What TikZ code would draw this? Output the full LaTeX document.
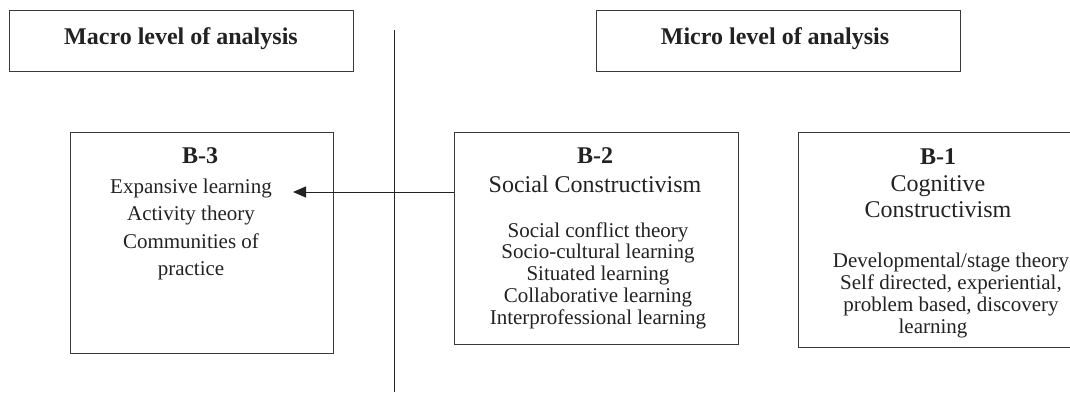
\documentclass[tikz,border=0pt]{standalone}
\usepackage{fontspec}
\setmainfont{Liberation Serif}
\usetikzlibrary{arrows.meta}
\definecolor{ink}{HTML}{222222}
\definecolor{edge}{HTML}{3A3A3A}
\tikzset{
  box/.style={draw=edge, line width=1.1pt, anchor=north west, inner sep=0pt},
  txt/.style={anchor=base, inner sep=0pt, text=ink},
  big/.style={font=\fontsize{24}{28}\selectfont},
  conn/.style={draw=ink, line width=1pt, -{Triangle[length=13pt,width=11pt]}}
}
\newcommand{\lines}[1]{\begin{tabular}[t]{@{}c@{}}#1\end{tabular}}
\begin{document}
\begin{tikzpicture}[x=1pt,y=-1pt]
\useasboundingbox (0,0) rectangle (1070,393);
% header boxes
\node[box, minimum width=344pt, minimum height=61pt] (macro) at (9,10) {};
\node[txt, big] (macrot) at (181,45) {\bfseries Macro level of analysis};
\node[box, minimum width=364pt, minimum height=61pt] (micro) at (596,10) {};
\node[txt, big] (microt) at (775,45) {\bfseries Micro level of analysis};
% divider
\coordinate (dtop) at (394,30);
\coordinate (dbot) at (394,392);
\draw[draw=ink, line width=1pt] (dtop) -- (dbot);
% B-3
\node[box, minimum width=263pt, minimum height=221pt] (b3) at (70,132) {};
\node[txt, big] (b3t) at (200,163) {\bfseries B-3};
\node[txt, font=\fontsize{21}{27.5}\selectfont] (b3i) at (191,193)
  {\lines{Expansive learning\\Activity theory\\Communities of\\practice}};
% B-2
\node[box, minimum width=284pt, minimum height=212pt] (b2) at (454,132) {};
\node[txt, font=\fontsize{24}{29}\selectfont] (b2t) at (595,163)
  {\lines{\bfseries B-2\\Social Constructivism}};
\node[txt, font=\fontsize{21}{21.8}\selectfont] (b2i) at (598,237)
  {\lines{Social conflict theory\\Socio-cultural learning\\Situated learning\\Collaborative learning\\Interprofessional learning}};
% B-1
\node[box, minimum width=272pt, minimum height=215pt] (b1) at (798,132) {};
\node[txt, font=\fontsize{24}{27}\selectfont] (b1t) at (938,164)
  {\lines{\bfseries B-1\\Cognitive\\Constructivism}};
\node[txt, font=\fontsize{21}{22}\selectfont] (b1i) at (951,267)
  {\lines{Developmental/stage theory\\Self directed, experiential,\\problem based, discovery\\\hspace*{-36pt}learning}};
% arrow
\coordinate (tip) at (293,192);
\draw[conn] (tip -| b2.west) -- (tip);
\end{tikzpicture}
\end{document}
